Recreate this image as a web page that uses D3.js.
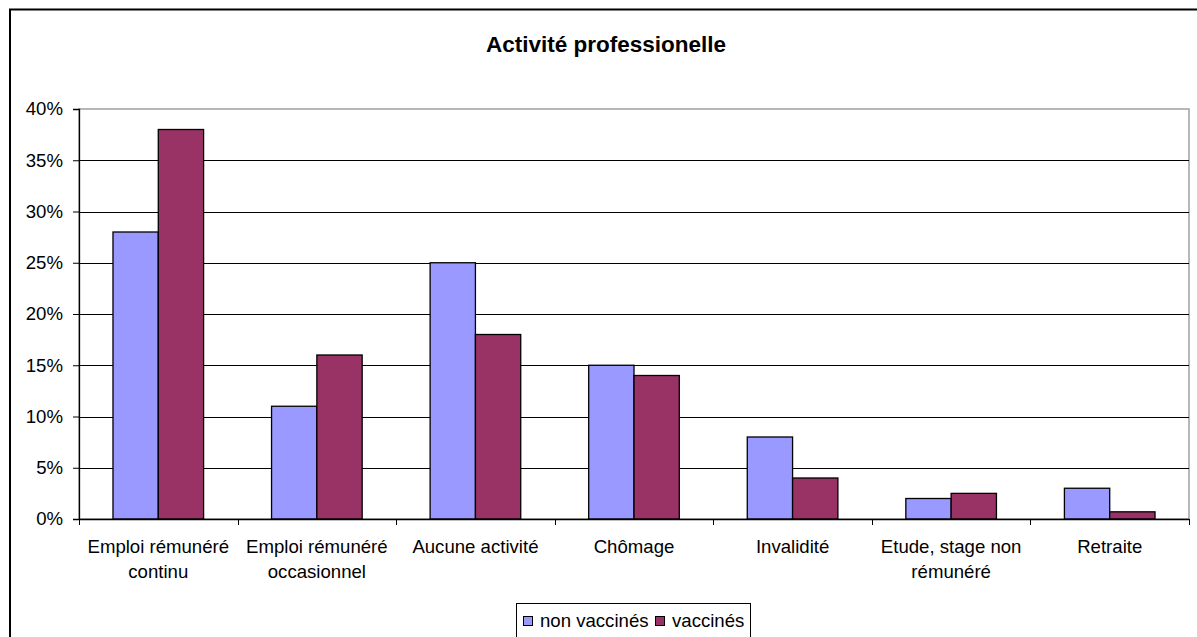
<!DOCTYPE html>
<html>
<head>
<meta charset="utf-8">
<script src="https://cdn.jsdelivr.net/npm/d3@7"></script>
<style>
  html, body { margin: 0; padding: 0; background: #fff; }
  svg { display: block; font-family: "Liberation Sans", Arial, sans-serif; }
</style>
</head>
<body>
<svg id="chart" width="1197" height="637"></svg>
<script>
// Categories (multi-line labels split with "|")
const categories = [
  "Emploi rémunéré|continu",
  "Emploi rémunéré|occasionnel",
  "Aucune activité",
  "Chômage",
  "Invalidité",
  "Etude, stage non|rémunéré",
  "Retraite"
];
const seriesNames = ["non vaccinés", "vaccinés"];
const nonVaccines = [28, 11, 25, 15, 8, 2, 3];
const vaccines = [38, 16, 18, 14, 4, 2.5, 0.7];
const yTicks = [0, 5, 10, 15, 20, 25, 30, 35, 40];
const colors = ["#9999FF", "#993366"];

const labelSize = 18.6;
const svg = d3.select("#chart");
const plot = { left: 79, right: 1189, top: 109, bottom: 519 };

// Outer chart frame
svg.append("rect")
  .attr("x", 10).attr("y", 9.5)
  .attr("width", 1200).attr("height", 640)
  .attr("fill", "#fff").attr("stroke", "#000").attr("stroke-width", 2);

// Title
svg.append("text")
  .attr("x", 606).attr("y", 52)
  .attr("text-anchor", "middle")
  .attr("font-size", 22.5).attr("font-weight", "bold")
  .text("Activité professionelle");

const x = d3.scaleBand().domain(categories).range([plot.left, plot.right]);
const y = d3.scaleLinear().domain([0, 40]).range([plot.bottom, plot.top]);
// Two bars per group with a gap of 1.5 bar widths
const barW = x.bandwidth() / 3.5;
const xs = d3.scaleBand().domain(seriesNames)
  .range([barW * 0.75, barW * 2.75]).padding(0);

// Plot area frame (grey top/right)
svg.append("rect")
  .attr("x", plot.left).attr("y", plot.top)
  .attr("width", plot.right - plot.left).attr("height", plot.bottom - plot.top)
  .attr("fill", "#fff").attr("stroke", "#a0a0a0").attr("stroke-width", 1.5);

// Horizontal gridlines
svg.append("g").selectAll("line")
  .data(yTicks.filter(d => d > 0 && d < 40))
  .join("line")
  .attr("x1", plot.left).attr("x2", plot.right)
  .attr("y1", d => Math.round(y(d)) + 0.5).attr("y2", d => Math.round(y(d)) + 0.5)
  .attr("stroke", "#000").attr("stroke-width", 1);

// Bars
const data = categories.map((c, i) => ({ c, vals: [nonVaccines[i], vaccines[i]] }));
const groups = svg.append("g").selectAll("g")
  .data(data).join("g")
  .attr("transform", d => `translate(${x(d.c)},0)`);
groups.selectAll("rect")
  .data(d => d.vals.map((v, j) => ({ v, s: seriesNames[j], j })))
  .join("rect")
  .attr("x", d => xs(d.s))
  .attr("y", d => y(d.v))
  .attr("width", xs.bandwidth())
  .attr("height", d => plot.bottom - y(d.v))
  .attr("fill", d => colors[d.j])
  .attr("stroke", "#000").attr("stroke-width", 1.3);

// Y axis
const yAxis = svg.append("g")
  .attr("transform", `translate(${plot.left},0)`)
  .call(d3.axisLeft(y).tickValues(yTicks).tickSize(6).tickPadding(10)
    .tickFormat(d => d + "%"));
yAxis.select(".domain").attr("stroke", "#000").attr("stroke-width", 1.3);
yAxis.selectAll(".tick line").attr("stroke", "#000");
yAxis.selectAll("text").attr("font-size", labelSize).attr("fill", "#000")
  .attr("font-family", "Liberation Sans, Arial, sans-serif");

// X axis with ticks at band boundaries
const xAxisG = svg.append("g").attr("transform", `translate(0,${plot.bottom})`);
xAxisG.append("line")
  .attr("x1", plot.left).attr("x2", plot.right)
  .attr("y1", 0.5).attr("y2", 0.5)
  .attr("stroke", "#000").attr("stroke-width", 1.3);
const bounds = categories.map(c => x(c)).concat([plot.right]);
xAxisG.selectAll("line.tk").data(bounds).join("line")
  .attr("class", "tk")
  .attr("x1", d => Math.round(d) + 0.5).attr("x2", d => Math.round(d) + 0.5)
  .attr("y1", 0).attr("y2", 6)
  .attr("stroke", "#000");
xAxisG.selectAll("text.cat").data(categories).join("text")
  .attr("class", "cat")
  .attr("text-anchor", "middle")
  .attr("font-size", labelSize)
  .attr("transform", d => `translate(${x(d) + x.bandwidth() / 2},0)`)
  .each(function (d) {
    const t = d3.select(this);
    d.split("|").forEach((line, k) => {
      t.append("tspan").attr("x", 0).attr("y", 33.5 + k * 25).text(line);
    });
  });

// Legend
const lg = svg.append("g").attr("transform", "translate(516,603)");
lg.append("rect")
  .attr("x", 0.5).attr("y", 0.5).attr("width", 234).attr("height", 40)
  .attr("fill", "#fff").attr("stroke", "#000").attr("stroke-width", 1);
const items = [{ name: seriesNames[0], x: 7 }, { name: seriesNames[1], x: 139 }];
items.forEach((it, i) => {
  lg.append("rect")
    .attr("x", it.x + 0.5).attr("y", 13.5).attr("width", 9).attr("height", 9)
    .attr("fill", colors[i]).attr("stroke", "#000").attr("stroke-width", 1);
  lg.append("text")
    .attr("x", it.x + 17).attr("y", 23.5)
    .attr("font-size", labelSize)
    .text(it.name);
});
</script>
</body>
</html>
